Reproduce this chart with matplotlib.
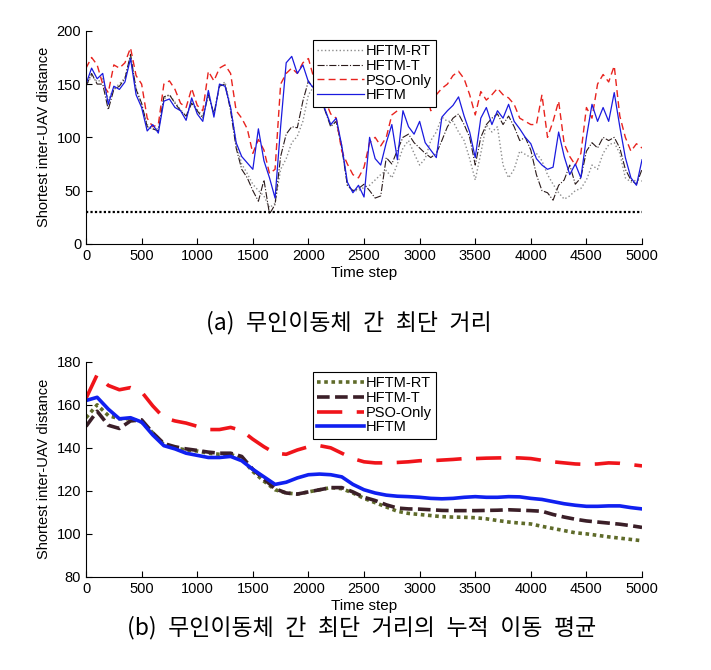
import numpy as np
import matplotlib.pyplot as plt

plt.rcParams['font.family'] = ['Liberation Sans', 'Noto Sans CJK KR', 'DejaVu Sans']

# (a) shortest inter-UAV distance, sampled every 50 time steps
steps_a = np.arange(0, 5001, 50)
hftm_a = [150, 165, 155, 160, 131, 148, 145, 152, 174, 140,
          128, 106, 112, 104, 134, 136, 128, 125, 116, 137,
          122, 115, 144, 119, 150, 148, 128, 95, 82, 76,
          70, 108, 78, 62, 43, 110, 170, 176, 160, 168,
          152, 146, 142, 126, 112, 118, 92, 58, 48, 55,
          44, 100, 80, 74, 95, 112, 79, 125, 110, 103,
          115, 95, 88, 81, 119, 125, 130, 138, 120, 105,
          81, 118, 128, 112, 125, 118, 131, 115, 108, 100,
          94, 80, 74, 70, 72, 105, 82, 65, 75, 62,
          100, 131, 115, 128, 115, 142, 110, 81, 62, 55, 79]
pso_a = [165, 175, 168, 150, 142, 168, 165, 170, 184, 158,
         150, 118, 110, 112, 150, 153, 145, 132, 128, 146,
         130, 125, 162, 153, 165, 168, 160, 125, 118, 108,
         85, 98, 88, 66, 70, 150, 160, 165, 160, 170,
         174, 155, 145, 135, 122, 118, 87, 75, 65, 62,
         72, 95, 100, 92, 100, 121, 125, 138, 150, 143,
         143, 148, 125, 140, 146, 150, 158, 162, 155, 140,
         121, 143, 135, 140, 146, 140, 137, 131, 118, 115,
         112, 112, 140, 100, 115, 134, 94, 82, 74, 85,
         128, 118, 150, 159, 152, 167, 120, 100, 87, 94, 90]
hftm_t_a = [148, 160, 150, 150, 126, 145, 148, 155, 178, 145,
            132, 110, 108, 106, 138, 140, 132, 125, 120, 132,
            125, 118, 140, 122, 148, 150, 125, 90, 70, 62,
            50, 40, 60, 28, 37, 82, 103, 110, 109, 134,
            153, 145, 140, 125, 110, 115, 90, 55, 50, 52,
            56, 50, 43, 45, 81, 75, 88, 100, 103, 95,
            90, 85, 81, 85, 97, 110, 118, 122, 112, 100,
            74, 100, 112, 118, 122, 112, 120, 110, 97, 100,
            88, 65, 50, 48, 41, 55, 60, 74, 56, 62,
            87, 95, 90, 100, 97, 100, 90, 70, 60, 56, 70]
hftm_rt_a = [148, 158, 152, 155, 135, 146, 150, 156, 176, 146,
             130, 112, 108, 108, 136, 140, 133, 126, 120, 134,
             126, 120, 142, 122, 148, 152, 128, 95, 75, 66,
             56, 50, 45, 34, 38, 70, 80, 95, 101, 115,
             140, 148, 140, 125, 112, 115, 92, 55, 50, 50,
             53, 55, 60, 65, 69, 62, 75, 90, 97, 85,
             74, 80, 97, 105, 119, 115, 115, 105, 97, 80,
             60, 85, 112, 105, 110, 74, 62, 70, 87, 84,
             81, 85, 78, 65, 56, 48, 42, 45, 50, 52,
             60, 74, 70, 85, 93, 95, 85, 62, 58, 60, 59]
min_dist = 30

# (b) cumulative moving average, sampled every 100 time steps
steps_b = np.arange(0, 5001, 100)
hftm_b = [162, 163.5, 158, 153.5, 154, 152, 146, 141, 139.5, 137.5,
          136.5, 135.5, 135.5, 136, 134, 130, 126.5, 123, 124, 126,
          127.5, 127.8, 127.5, 126.5, 123, 120.5, 119, 118, 117.5, 117.3,
          117, 116.5, 116.3, 116.5, 117, 117.3, 117, 117, 117.3, 117.2,
          116.5, 116, 115, 114, 113.3, 112.8, 112.8, 113, 113, 112.2, 111.6]
pso_b = [163, 174, 169, 167, 168, 166, 159.5, 154, 152.5, 151.5,
         150, 148.5, 148.5, 149.5, 148, 144, 140.5, 137.5, 137, 139,
         140.5, 141, 140, 137.5, 135, 133.5, 133, 133, 133.2, 133.5,
         134, 134, 134.3, 134.6, 135, 135, 135.2, 135.3, 135.4, 135.3,
         135, 134.2, 133.5, 133, 132.5, 132.3, 132.5, 133, 132.8, 132.2, 131.6]
hftm_t_b = [150, 157, 150.5, 149, 152.5, 153, 147, 142, 140.5, 139.5,
            138.8, 138, 137.5, 137.5, 136, 130, 125.5, 121, 119, 118.5,
            119.5, 120.5, 121.5, 121.5, 119.5, 117, 115.5, 113.5, 112, 111.6,
            111.5, 111.2, 110.9, 110.8, 110.8, 110.8, 110.9, 111, 111.2, 111,
            110.8, 110.5, 109, 107.8, 106.8, 106, 105.5, 105, 104.5, 103.8, 103]
hftm_rt_b = [154, 160, 155, 153.5, 153.5, 152, 147, 141.5, 140, 139,
             138.5, 137.5, 137, 137, 135, 129, 124.5, 120.5, 119, 118.5,
             119.5, 120.5, 121.5, 121, 119, 116.5, 114.5, 112.5, 110.5, 109.5,
             109, 108.5, 108, 107.8, 107.7, 107.5, 107, 106.2, 105.5, 105,
             104.6, 103.5, 102.5, 101.5, 100.5, 100, 99.3, 98.6, 98, 97.4, 96.8]

labels = ['HFTM-RT', 'HFTM-T', 'PSO-Only', 'HFTM']
caption_a = '(a) 무인이동체 간 최단 거리'
caption_b = '(b) 무인이동체 간 최단 거리의 누적 이동 평균'

fig = plt.figure(figsize=(7.11, 6.70), dpi=100)
ax1 = fig.add_axes([0.121, 0.636, 0.782, 0.318])
ax2 = fig.add_axes([0.121, 0.139, 0.782, 0.321])

# top panel: raw distances, thin lines
ax1.plot(steps_a, hftm_rt_a, color='#8c8c8c', linestyle=':', linewidth=1.0, label=labels[0])
ax1.plot(steps_a, hftm_t_a, color='#2a1a1a', linestyle='-.', linewidth=0.8, label=labels[1])
ax1.plot(steps_a, pso_a, color='#e8231e', linestyle=(0, (5, 3)), linewidth=1.0, label=labels[2])
ax1.plot(steps_a, hftm_a, color='#1a1adf', linestyle='-', linewidth=0.9, label=labels[3])
ax1.axhline(min_dist, color='black', linestyle=(0, (1, 1)), linewidth=1.6)
ax1.set_xlim(0, 5000)
ax1.set_ylim(0, 200)
ax1.set_yticks([0, 50, 100, 150, 200])

# bottom panel: cumulative moving average, thick lines
ax2.plot(steps_b, hftm_rt_b, color='#5f6b2a', linestyle=(0, (1, 1)), linewidth=2.6, label=labels[0])
ax2.plot(steps_b, hftm_t_b, color='#3b1f28', linestyle=(0, (3.5, 1.5)), linewidth=2.6, label=labels[1])
ax2.plot(steps_b, pso_b, color='#f0141a', linestyle=(0, (7, 4)), linewidth=2.6, label=labels[2])
ax2.plot(steps_b, hftm_b, color='#1020f0', linestyle='-', linewidth=2.6, label=labels[3])
ax2.set_xlim(0, 5000)
ax2.set_ylim(80, 180)
ax2.set_yticks([80, 100, 120, 140, 160, 180])

for ax, anchor in [(ax1, (0.408, 0.958)), (ax2, (0.408, 0.953))]:
    ax.set_xticks(np.arange(0, 5001, 500))
    ax.tick_params(direction='in', length=4, labelsize=10.5, width=0.8)
    ax.spines['top'].set_visible(False)
    ax.spines['right'].set_visible(False)
    ax.set_xlabel('Time step', fontsize=11, labelpad=2)
    ax.set_ylabel('Shortest inter-UAV distance', fontsize=10.5, labelpad=4)
    leg = ax.legend(loc='upper left', bbox_to_anchor=anchor, fontsize=10.5,
                    handlelength=3.2, handletextpad=0.1, borderpad=0.3,
                    labelspacing=0.05, borderaxespad=0, fancybox=False,
                    framealpha=1)
    leg.get_frame().set_edgecolor('black')
    leg.get_frame().set_linewidth(0.8)

# captions: the source uses a wider word gap, so use en spaces
cjk = ['Noto Sans CJK KR', 'DejaVu Sans']
fig.text(0.490, 0.519, caption_a.replace(' ', '\u2002'), ha='center', va='center',
         fontsize=16.5, family=cjk)
fig.text(0.508, 0.064, caption_b.replace(' ', '\u2002'), ha='center', va='center',
         fontsize=16.5, family=cjk)

fig.savefig('out.png', dpi=100)
